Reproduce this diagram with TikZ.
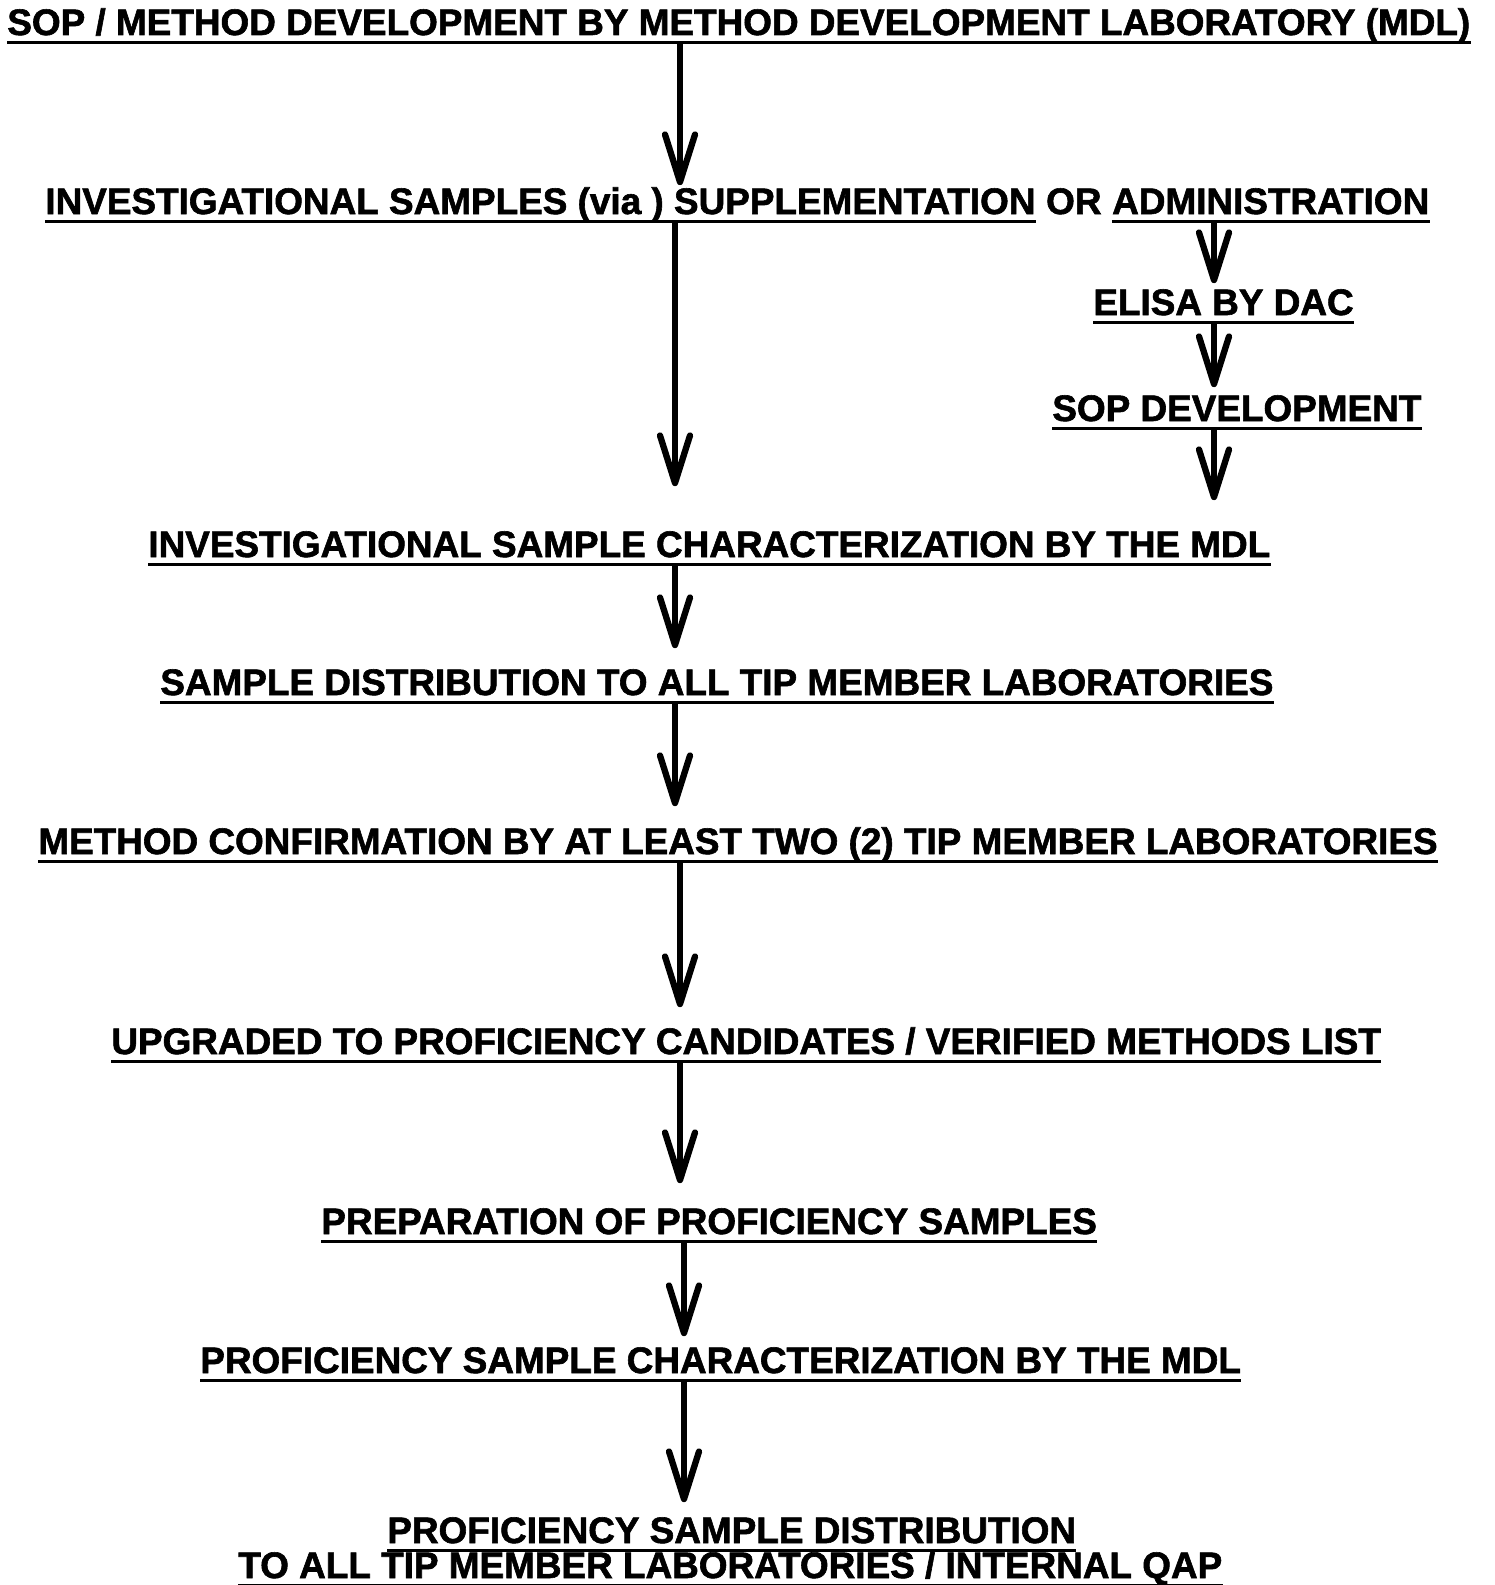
\documentclass[tikz,border=0pt]{standalone}
\usepackage{fontspec}
\setmainfont{Liberation Sans}[BoldFeatures={FakeBold=1.6}]
\usetikzlibrary{arrows.meta,positioning}

\begin{document}
\begin{tikzpicture}[x=0.02cm, y=-0.02cm,
  font=\fontsize{21pt}{24pt}\selectfont\bfseries,
  stage/.style={anchor=base west, inner sep=0pt, text height=0.53cm, text depth=0.14cm},
  underrule/.style={line width=1.7pt},
  flowarrow/.style={line width=2.9pt,
    -{Straight Barb[length=0.95cm, width=0.6cm, line width=3.6pt, round]}},
  ]
  %%% page frame %%%
  \path[use as bounding box, fill=white] (0,0) rectangle (1494,1585);

  %%% arrow columns %%%
  \coordinate (colA) at (680,0);
  \coordinate (colB) at (675,0);
  \coordinate (colR) at (1214,0);
  \coordinate (colC) at (684,0);

  %%% stages %%%
  \node[stage] (title) at (7,35) {SOP / METHOD DEVELOPMENT BY METHOD DEVELOPMENT LABORATORY (MDL)};
  \node[stage] (inv) at (45,214) {INVESTIGATIONAL SAMPLES (via ) SUPPLEMENTATION};
  \node[stage, right=0.2cm of inv] (or) {OR};
  \node[stage, right=0.2cm of or] (admin) {ADMINISTRATION};
  \node[stage] (elisa) at (1093,315) {ELISA BY DAC};
  \node[stage] (sopdev) at (1052,421) {SOP DEVELOPMENT};
  \node[stage] (charinv) at (148,557) {INVESTIGATIONAL SAMPLE CHARACTERIZATION BY THE MDL};
  \node[stage] (dist) at (160,695) {SAMPLE DISTRIBUTION TO ALL TIP MEMBER LABORATORIES};
  \node[stage] (confirm) at (38,854) {METHOD CONFIRMATION BY AT LEAST TWO (2) TIP MEMBER LABORATORIES};
  \node[stage] (upgrade) at (111,1054) {UPGRADED TO PROFICIENCY CANDIDATES / VERIFIED METHODS LIST};
  \node[stage] (prep) at (321,1234) {PREPARATION OF PROFICIENCY SAMPLES};
  \node[stage] (charprof) at (200,1373) {PROFICIENCY SAMPLE CHARACTERIZATION BY THE MDL};
  \node[stage] (pdist) at (387,1543) {PROFICIENCY SAMPLE DISTRIBUTION};
  \node[stage] (pdistb) at (238,1578) {TO ALL TIP MEMBER LABORATORIES / INTERNAL QAP};

  %%% underlines (OR is left plain) %%%
  \foreach \n in {title,inv,admin,elisa,sopdev,charinv,dist,confirm,upgrade,prep,charprof,pdist,pdistb}
    \draw[underrule] (\n.south west) -- (\n.south east);

  %%% arrows %%%
  \foreach \a/\b/\c/\g in {title/inv/colA/0.04cm, inv/charinv/colB/0.88cm,
      admin/elisa/colR/0.1cm, elisa/sopdev/colR/0.14cm, sopdev/charinv/colR/0.6cm,
      charinv/dist/colB/0.4cm, dist/confirm/colB/0.42cm, confirm/upgrade/colA/0.4cm,
      upgrade/prep/colA/0.48cm, prep/charprof/colC/0.2cm, charprof/pdist/colC/0.28cm}
    \draw[flowarrow, shorten >=\g] (\a.south -| \c) -- (\b.north -| \c);
\end{tikzpicture}
\end{document}
